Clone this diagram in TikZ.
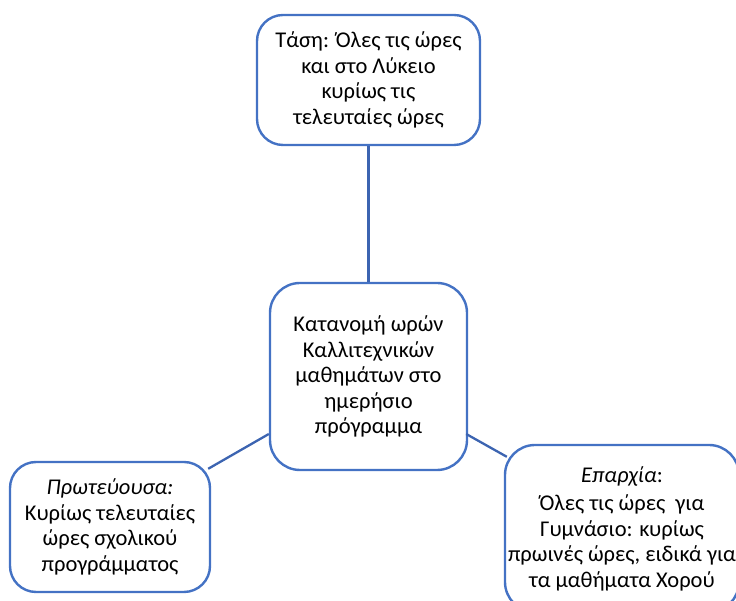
\documentclass[tikz,border=0pt]{standalone}
\usepackage{fontspec}
\setmainfont{Carlito}
\definecolor{boxblue}{HTML}{4472C4}
\definecolor{linkblue}{HTML}{3C64B1}
\tikzset{
  topic/.style={draw=boxblue, line width=2.4pt, rounded corners=26pt, fill=white,
    align=center, inner sep=0pt, font=\fontsize{22.5}{25.5}\selectfont},
  link/.style={draw=linkblue, line width=2.3pt}
}
\begin{document}
\begin{tikzpicture}[x=1pt,y=1pt]
\useasboundingbox (0,0) rectangle (736,601);
\clip (0,0) rectangle (736,601);

% central topic
\node[topic, rounded corners=30pt, minimum width=197pt, minimum height=187pt] (ctr) at (368.5,224.5)
  {Κατανομή ωρών\\Καλλιτεχνικών\\μαθημάτων στο\\ημερήσιο\\πρόγραμμα};

% upper branch
\node[topic, minimum width=223pt, minimum height=130pt] (top) at (368.5,521)
  {Τάση: Όλες τις ώρες\\και στο Λύκειο\\κυρίως τις\\τελευταίες ώρες};

% lower left branch
\node[topic, minimum width=200pt, minimum height=130pt] (lft) at (110,74)
  {\textit{Πρωτεύουσα:}\\Κυρίως τελευταίες\\ώρες σχολικού\\προγράμματος};

% lower right branch
\node[topic, rounded corners=30pt, minimum width=234pt, minimum height=167pt] (rgt) at (622,72.5)
  {\textit{Επαρχία}:\\[3pt]Όλες τις ώρες\ \ για\\Γυμνάσιο: κυρίως\\πρωινές ώρες, ειδικά για\\τα μαθήματα Χορού};

% connectors
\draw[link] (top.south) -- (ctr.north);
\draw[link] ([shift={(0pt,-57.5pt)}]ctr.west) -- ([shift={(-3pt,-8pt)}]lft.north east);
\draw[link] ([shift={(-2pt,-57.5pt)}]ctr.east) -- ([shift={(3pt,-13pt)}]rgt.north west);
\end{tikzpicture}
\end{document}
